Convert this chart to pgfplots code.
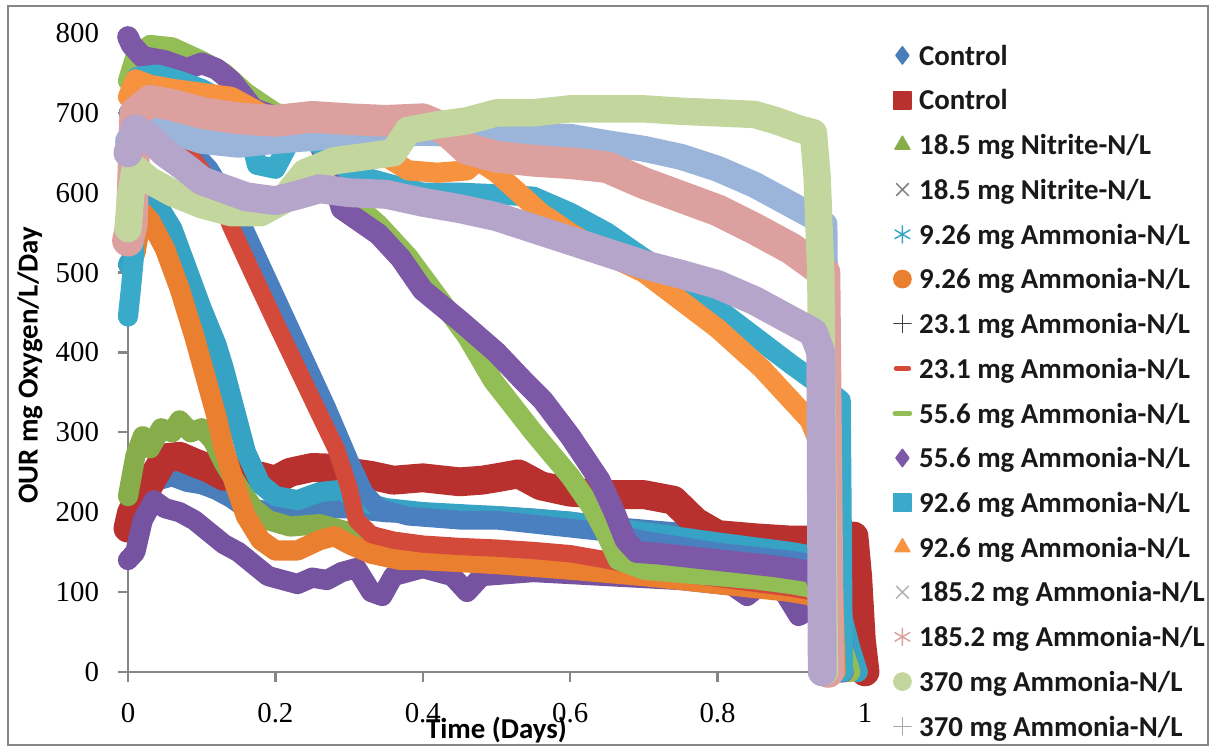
\documentclass[border=0pt]{standalone}
\usepackage{pgfplots}
\pgfplotsset{compat=1.18}
\usepackage{fontspec}
\setmainfont{Carlito}
\newfontfamily\tickfont{Liberation Serif}
\definecolor{axgray}{HTML}{868686}
\definecolor{c1}{HTML}{4A7EBB}
\definecolor{c2}{HTML}{B8312F}
\definecolor{c3}{HTML}{86AD4A}
\definecolor{c4}{HTML}{7553A0}
\definecolor{c5}{HTML}{36A3C4}
\definecolor{c6}{HTML}{EB7F30}
\definecolor{c7}{HTML}{4A7FC0}
\definecolor{c8}{HTML}{D44A3A}
\definecolor{c9}{HTML}{93BD55}
\definecolor{c10}{HTML}{7D58A6}
\definecolor{c11}{HTML}{3AAACB}
\definecolor{c12}{HTML}{F7923F}
\definecolor{c13}{HTML}{9BB5DA}
\definecolor{c14}{HTML}{DCA09E}
\definecolor{c15}{HTML}{C2D69E}
\definecolor{c16}{HTML}{B5A5CA}
\newcommand{\legmark}[2][]{\draw[line width=0.5pt, mark=#2, mark size=3pt, mark options={solid,#1}] plot coordinates {(0pt,0.9pt)};}
\begin{document}
\begin{tikzpicture}
\useasboundingbox (0,0) rectangle (420pt,260.2pt);
\draw[color=axgray, line width=0.6pt] (2.77pt,2.08pt) rectangle (418.57pt,258.1pt);
\begin{axis}[
  at={(44.35pt,27.37pt)}, anchor=south west,
  scale only axis, width=255.4pt, height=221.4pt,
  xmin=0, xmax=1, ymin=0, ymax=800,
  clip=false,
  axis x line*=bottom, axis y line*=left,
  x axis line style={-, color=axgray, line width=0.8pt},
  y axis line style={-, color=axgray, line width=0.8pt},
  xtick={0,0.2,0.4,0.6,0.8,1},
  ytick={0,100,200,300,400,500,600,700,800},
  tick align=outside, major tick length=3.5pt,
  tick style={color=axgray, line width=0.8pt},
  /pgf/number format/assume math mode=true,
  ticklabel style={font=\tickfont\fontsize{10}{12}\selectfont},
  xticklabel style={yshift=-4pt},
  yticklabel style={xshift=-3pt},
  legend style={at={(axis description cs:1.039,0.9812)}, anchor=north west, draw=none, fill=none,
    inner sep=0pt, outer sep=0pt, row sep=6.5pt, column sep=2.8pt,
    font=\bfseries\fontsize{10}{12}\selectfont, text=black!90,
    nodes={inner sep=0pt, text height=7pt, text depth=2pt}},
  legend cell align=left,
  every axis plot/.append style={line join=round, line cap=round},
]
\addplot[c1, line width=7pt, legend image code/.code={\legmark{diamond*}}] coordinates {
(0,195)(0.01,205)(0.02,225)(0.04,240)(0.06,245)(0.08,238)(0.1,235)(0.12,228)(0.14,218)(0.16,205)(0.2,200)(0.25,205)(0.3,205)(0.35,200)(0.4,198)(0.45,196)(0.5,195)(0.55,192)(0.6,188)(0.65,182)(0.7,178)(0.75,174)(0.8,172)(0.85,170)(0.9,167)(0.93,165)(0.96,163)(0.975,160)(0.985,120)(0.99,70)(0.995,30)(1,5)};
\addlegendentry{Control}
\addplot[c2, line width=10pt, legend image code/.code={\legmark{square*}}] coordinates {
(0,180)(0.005,200)(0.02,220)(0.035,245)(0.05,268)(0.07,270)(0.09,262)(0.11,255)(0.13,245)(0.15,250)(0.18,245)(0.2,240)(0.22,250)(0.25,256)(0.28,255)(0.3,250)(0.33,246)(0.36,240)(0.4,243)(0.45,238)(0.48,240)(0.5,243)(0.53,248)(0.56,233)(0.6,225)(0.65,222)(0.7,222)(0.74,215)(0.77,188)(0.8,172)(0.85,168)(0.9,165)(0.93,165)(0.96,170)(0.985,170)(0.99,120)(0.995,40)(1,0)};
\addlegendentry{Control}
\addplot[c3, line width=7pt, legend image code/.code={\legmark{triangle*}}] coordinates {
(0,220)(0.01,270)(0.02,295)(0.03,280)(0.045,305)(0.06,300)(0.07,315)(0.085,300)(0.1,305)(0.115,290)(0.13,262)(0.15,232)(0.17,205)(0.19,190)(0.22,182)(0.26,185)(0.3,175)(0.35,160)(0.4,150)(0.5,140)(0.6,132)(0.7,125)(0.8,115)(0.9,105)(0.93,100)(0.96,60)(0.98,15)(0.99,0)};
\addlegendentry{18.5 mg Nitrite-N/L}
\addplot[c4, line width=7pt, legend image code/.code={\legmark[color=gray]{x}}] coordinates {
(0,140)(0.01,150)(0.02,190)(0.035,215)(0.05,205)(0.07,200)(0.09,190)(0.11,175)(0.13,160)(0.15,150)(0.17,135)(0.19,120)(0.21,115)(0.23,110)(0.25,118)(0.27,115)(0.29,125)(0.31,130)(0.33,100)(0.345,95)(0.36,120)(0.4,130)(0.44,120)(0.46,100)(0.48,120)(0.55,125)(0.65,120)(0.75,115)(0.82,108)(0.84,95)(0.86,110)(0.89,100)(0.91,70)(0.93,80)(0.95,40)(0.97,0)};
\addlegendentry{18.5 mg Nitrite-N/L}
\addplot[c5, line width=7pt, legend image code/.code={\legmark{asterisk}}] coordinates {
(0,510)(0.01,525)(0.02,600)(0.04,585)(0.06,555)(0.08,505)(0.1,455)(0.12,410)(0.13,380)(0.15,310)(0.16,275)(0.18,235)(0.2,220)(0.23,215)(0.26,225)(0.29,228)(0.31,215)(0.35,205)(0.4,200)(0.5,195)(0.6,188)(0.7,175)(0.8,162)(0.9,150)(0.93,145)(0.96,100)(0.98,30)(0.99,0)};
\addlegendentry{9.26 mg Ammonia-N/L}
\addplot[c6, line width=7pt, legend image code/.code={\legmark{*}}] coordinates {
(0,545)(0.01,525)(0.02,575)(0.03,565)(0.05,530)(0.07,480)(0.09,420)(0.105,370)(0.12,320)(0.13,280)(0.145,235)(0.16,195)(0.18,165)(0.2,152)(0.23,152)(0.26,165)(0.28,170)(0.3,160)(0.33,148)(0.37,140)(0.4,140)(0.5,135)(0.6,128)(0.7,120)(0.8,110)(0.9,100)(0.93,95)(0.95,60)(0.97,20)(0.98,0)};
\addlegendentry{9.26 mg Ammonia-N/L}
\addplot[c7, line width=6.5pt, legend image code/.code={\legmark[color=darkgray]{+}}] coordinates {
(0,700)(0.03,690)(0.06,670)(0.09,650)(0.11,630)(0.13,600)(0.15,570)(0.18,510)(0.21,450)(0.24,390)(0.27,330)(0.3,265)(0.32,225)(0.34,205)(0.38,195)(0.45,190)(0.5,190)(0.55,185)(0.6,180)(0.65,175)(0.7,165)(0.8,150)(0.9,140)(0.93,135)(0.96,80)(0.98,0)};
\addlegendentry{23.1 mg Ammonia-N/L}
\addplot[c8, line width=6pt, legend image code/.code={\legmark[line width=1.6pt,mark size=2.2pt]{-}}] coordinates {
(0,690)(0.03,675)(0.06,660)(0.09,640)(0.11,615)(0.13,580)(0.14,557)(0.17,497)(0.2,438)(0.23,380)(0.26,322)(0.283,278)(0.3,230)(0.31,190)(0.33,172)(0.36,165)(0.4,160)(0.45,157)(0.5,155)(0.55,152)(0.6,148)(0.65,140)(0.7,130)(0.8,117)(0.9,105)(0.93,100)(0.96,55)(0.98,0)};
\addlegendentry{23.1 mg Ammonia-N/L}
\addplot[c9, line width=7pt, legend image code/.code={\legmark[line width=1.6pt,mark size=2.6pt]{-}}] coordinates {
(0,740)(0.01,770)(0.03,785)(0.06,782)(0.1,765)(0.13,750)(0.16,725)(0.2,700)(0.25,690)(0.27,650)(0.29,600)(0.34,560)(0.38,520)(0.42,470)(0.46,420)(0.495,365)(0.55,300)(0.6,245)(0.63,205)(0.65,170)(0.665,140)(0.7,128)(0.75,124)(0.8,120)(0.85,116)(0.9,110)(0.93,105)(0.96,60)(0.98,0)};
\addlegendentry{55.6 mg Ammonia-N/L}
\addplot[c10, line width=7.5pt, legend image code/.code={\legmark{diamond*}}] coordinates {
(0,795)(0.005,785)(0.02,770)(0.05,765)(0.08,755)(0.1,762)(0.12,755)(0.14,740)(0.17,705)(0.2,695)(0.25,680)(0.27,640)(0.29,580)(0.34,548)(0.37,518)(0.4,478)(0.45,440)(0.5,400)(0.536,365)(0.563,340)(0.6,295)(0.64,240)(0.66,200)(0.675,165)(0.69,150)(0.72,148)(0.8,140)(0.88,132)(0.93,125)(0.95,80)(0.97,0)};
\addlegendentry{55.6 mg Ammonia-N/L}
\addplot[c11, line width=7pt, legend image code/.code={\legmark{square*}}] coordinates {
(0,445)(0.004,480)(0.008,520)(0.012,745)(0.04,748)(0.07,740)(0.1,730)(0.13,715)(0.16,690)(0.175,635)(0.2,630)(0.22,665)(0.25,665)(0.28,650)(0.3,625)(0.35,612)(0.4,600)(0.45,600)(0.5,598)(0.55,595)(0.6,575)(0.65,550)(0.7,518)(0.75,490)(0.8,455)(0.85,420)(0.9,385)(0.93,365)(0.96,345)(0.967,340)(0.97,0)};
\addlegendentry{92.6 mg Ammonia-N/L}
\addplot[c12, line width=7pt, legend image code/.code={\legmark{triangle*}}] coordinates {
(0,720)(0.01,742)(0.03,735)(0.06,730)(0.1,725)(0.14,720)(0.17,705)(0.2,690)(0.25,685)(0.3,670)(0.35,645)(0.38,628)(0.42,625)(0.46,628)(0.475,640)(0.5,625)(0.53,600)(0.56,575)(0.6,550)(0.65,522)(0.7,500)(0.75,465)(0.8,430)(0.86,380)(0.9,340)(0.925,315)(0.945,270)(0.955,150)(0.96,0)};
\addlegendentry{92.6 mg Ammonia-N/L}
\addplot[c13, line width=9pt, legend image code/.code={\legmark[color=lightgray!80!gray]{x}}] coordinates {
(0,665)(0.02,690)(0.05,680)(0.1,665)(0.15,660)(0.2,665)(0.3,672)(0.4,675)(0.5,672)(0.55,670)(0.6,670)(0.65,662)(0.7,655)(0.75,645)(0.8,630)(0.85,610)(0.9,585)(0.93,570)(0.945,560)(0.95,0)};
\addlegendentry{185.2 mg Ammonia-N/L}
\addplot[c14, line width=11pt, legend image code/.code={\legmark{asterisk}}] coordinates {
(0,540)(0.005,560)(0.01,700)(0.03,715)(0.06,710)(0.1,700)(0.15,693)(0.2,690)(0.25,695)(0.3,692)(0.35,690)(0.4,692)(0.43,680)(0.46,655)(0.5,645)(0.55,640)(0.6,637)(0.65,632)(0.7,612)(0.75,595)(0.8,578)(0.85,555)(0.9,530)(0.93,510)(0.945,500)(0.95,0)};
\addlegendentry{185.2 mg Ammonia-N/L}
\addplot[c15, line width=9.5pt, legend image code/.code={\legmark{*}}] coordinates {
(0,555)(0.004,600)(0.01,630)(0.03,615)(0.06,600)(0.1,585)(0.14,575)(0.18,575)(0.21,590)(0.24,625)(0.28,640)(0.32,645)(0.36,650)(0.38,678)(0.42,685)(0.46,690)(0.5,700)(0.55,700)(0.6,705)(0.65,705)(0.7,705)(0.75,702)(0.8,700)(0.85,698)(0.88,690)(0.91,680)(0.93,675)(0.935,620)(0.94,500)(0.942,300)(0.945,0)};
\addlegendentry{370 mg Ammonia-N/L}
\addplot[c16, line width=10pt, legend image code/.code={\legmark[color=gray!70]{+}}] coordinates {
(0,650)(0.01,680)(0.03,668)(0.05,650)(0.08,630)(0.1,615)(0.13,605)(0.16,595)(0.2,590)(0.23,597)(0.26,605)(0.3,600)(0.35,598)(0.4,588)(0.45,580)(0.5,570)(0.55,555)(0.6,540)(0.65,525)(0.7,510)(0.75,498)(0.8,485)(0.85,465)(0.9,440)(0.93,425)(0.94,400)(0.942,0)};
\addlegendentry{370 mg Ammonia-N/L}
\node[font=\bfseries\fontsize{10}{12}\selectfont, anchor=center] at ([yshift=-20.1pt]axis description cs:0.5,0) {Time (Days)};
\node[font=\bfseries\fontsize{10}{12}\selectfont, anchor=center, rotate=90] at ([xshift=-34pt]axis description cs:0,0.48) {OUR mg Oxygen/L/Day};
\end{axis}
\end{tikzpicture}
\end{document}
